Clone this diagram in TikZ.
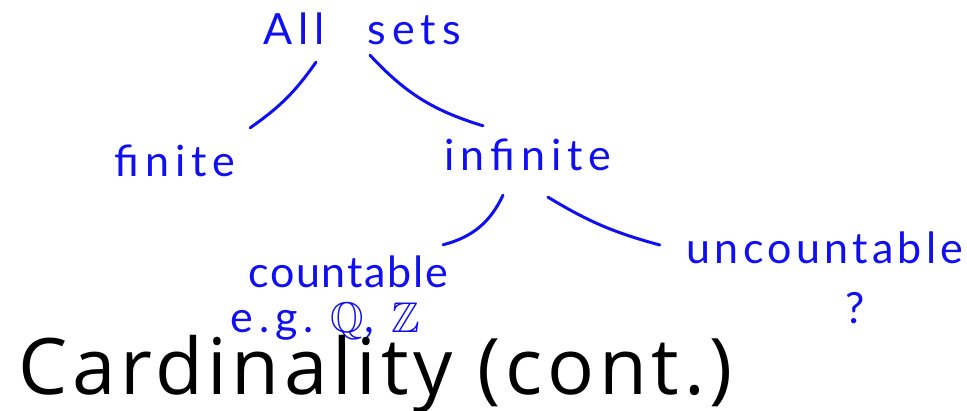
\documentclass[tikz,border=0pt]{standalone}
\usepackage{amssymb}
\usepackage{fontspec}
\setsansfont[LetterSpace=6]{Open Sans}
\newfontfamily\handfont[LetterSpace=14]{Lato}
\usetikzlibrary{calc}
\definecolor{ink}{RGB}{15,15,240}

\begin{document}
\begin{tikzpicture}[x=1pt,y=-1pt,
  word/.style={ink,inner sep=0pt,font=\handfont\fontsize{43}{43}\selectfont},
  stroke/.style={ink,line width=3pt,line cap=round}]
\path[use as bounding box] (0,0) rectangle (967,411);
\node[word,minimum width=215,minimum height=42] (all) at (362,29) {All\quad sets};
\node[word,minimum width=154,minimum height=42] (finite) at (175,161) {finite};
\node[word,minimum width=207,minimum height=50] (infinite) at (528,155) {infinite};
\node[word,minimum width=195,minimum height=36] (countable) at (348,272) {\addfontfeature{LetterSpace=4}countable};
\node[word,minimum width=260,minimum height=42] (eg) at (325,322) {e.g.\ $\mathbb{Q}$, $\mathbb{Z}$};
\node[word,minimum width=280,minimum height=36] (uncountable) at (825,248) {\addfontfeature{LetterSpace=10}uncountable};
\node[word,minimum width=14,minimum height=36] (unknown) at (855,308) {?};
\node[anchor=base west,inner sep=0pt,font=\sffamily\fontsize{78}{78}\selectfont] (title) at (18,395) {Cardinality (cont.)};
\draw[stroke] ($(all.south)+(-46,12)$) to[bend left=10] ($(finite.north east)+(-2,-12)$);
\draw[stroke] ($(all.south)+(8,5)$) to[bend right=15] ($(infinite.north)+(-45,-4)$);
\draw[stroke] ($(infinite.south)+(-25,15)$) to[bend left=25] ($(countable.north east)+(-5,-9)$);
\draw[stroke] ($(infinite.south)+(20,17)$) to[bend right=8] ($(uncountable.west)+(-25,-3)$);
\end{tikzpicture}
\end{document}
